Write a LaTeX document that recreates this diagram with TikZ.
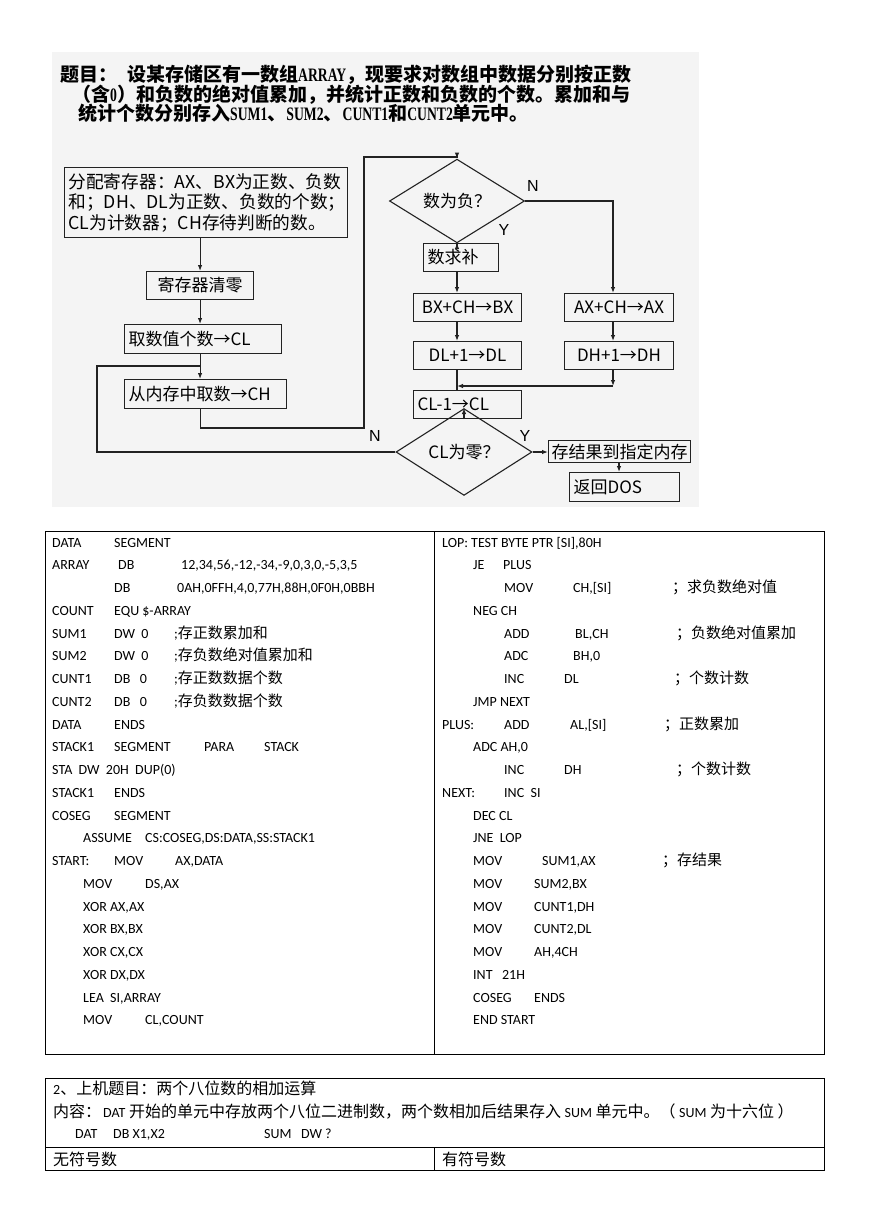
\documentclass[tikz,border=0pt]{standalone}
\usepackage{fontspec}
\setmainfont{Carlito}
\newfontfamily\zh{Noto Sans CJK SC}
\newfontfamily\ar{Liberation Sans}
\newfontfamily\tl[FakeStretch=0.72]{Liberation Serif}
\usetikzlibrary{arrows.meta,shapes.geometric}
\newcommand\tb[2]{\makebox[#1pt][l]{#2}}
\newcommand\z[1]{{\zh\fontsize{15}{16}\selectfont #1}}
\newcommand\zz[1]{{\zh\fontsize{16}{18}\selectfont #1}}
\newcommand\R[1]{547+22.75*(#1-1)}
\definecolor{bg}{HTML}{F4F4F4}
\definecolor{ln}{HTML}{222222}
\tikzset{
  ttl/.style={anchor=base west, inner sep=0pt, font=\zh\bfseries\fontsize{19}{22}\selectfont},
  fbox/.style={draw=ln, line width=1.1pt, anchor=north west, inner xsep=4pt, inner ysep=0pt,
    font=\zh\fontsize{17}{20.5}\selectfont},
  fdia/.style={draw=ln, line width=1.1pt, diamond, inner sep=0pt, font=\zh\fontsize{17}{20}\selectfont},
  con/.style={draw=ln, line width=1.1pt},
  arr/.style={con, -{Latex[length=6pt,width=4.5pt]}},
  lab/.style={inner sep=0pt, font=\ar\fontsize{16}{18}\selectfont},
  code/.style={anchor=base west, inner sep=0pt, font=\fontsize{14}{16}\selectfont},
  tline/.style={draw=black, line width=0.9pt}
}
\begin{document}
\begin{tikzpicture}[x=1pt,y=-1pt]
\useasboundingbox (0,0) rectangle (869,1228);
\fill[white] (0,0) rectangle (869,1228);
% ---------- flowchart picture ----------
\fill[bg] (52,52) rectangle (699,507);
\node[ttl] (t1) at (60,82) {题目：\hspace{10pt}设某存储区有一数组{\tl\bfseries ARRAY}，现要求对数组中数据分别按正数};
\node[ttl] (t2) at (72,102) {（含{\tl\bfseries 0}）和负数的绝对值累加，并统计正数和负数的个数。累加和与};
\node[ttl] (t3) at (78,121) {统计个数分别存入{\tl\bfseries SUM1}、{\tl\bfseries SUM2}、{\tl\bfseries CUNT1}和{\tl\bfseries CUNT2}单元中。};

\node[fbox, minimum width=283pt, minimum height=70pt, text width=275pt, align=left,
  font=\zh\fontsize{17.7}{20.5}\selectfont] (b1) at (64,167)
  {分配寄存器：AX、BX为正数、负数\\和；DH、DL为正数、负数的个数；\\CL为计数器；CH存待判断的数。};
\node[fbox, minimum width=107pt, minimum height=28pt] (b2) at (146,271) {寄存器清零};
\node[fbox, minimum height=29pt, text width=149pt, align=left] (b3) at (124,324) {取数值个数→CL};
\node[fbox, minimum height=29pt, text width=154pt, align=left] (b4) at (124,379) {从内存中取数→CH};

\node[fdia, minimum width=135pt, minimum height=48pt] (d1) at (457,201) {数为负？};
\node[fbox, minimum height=28pt, text width=67pt, align=left] (bq) at (423,243) {数求补};
\node[fbox, minimum width=108pt, minimum height=28pt] (bx) at (413,293) {BX+CH→BX};
\node[fbox, minimum width=109pt, minimum height=28pt] (ax) at (564,293) {AX+CH→AX};
\node[fbox, minimum width=108pt, minimum height=28pt] (dl) at (413,341) {DL+1→DL};
\node[fbox, minimum width=109pt, minimum height=28pt] (dh) at (564,341) {DH+1→DH};
\node[fbox, minimum height=28pt, text width=100pt, align=left] (cl) at (413,390) {CL-1→CL};
\node[fdia, minimum width=136pt, minimum height=48pt] (d2) at (464,452) {CL为零？};
\node[fbox, minimum width=142pt, minimum height=22pt, inner xsep=1pt] (st) at (548,440) {存结果到指定内存};
\node[fbox, minimum height=29pt, text width=102pt, align=left] (rt) at (569,472) {返回DOS};

\node[lab] (nN1) at (533,186) {N};
\node[lab] (nY1) at (504,230) {Y};
\node[lab] (nN2) at (375,436) {N};
\node[lab] (nY2) at (525,436) {Y};

\coordinate (lx) at (97,366);
\coordinate (ry) at (364,428);
\coordinate (tp) at (364,157);
\coordinate (nc) at (613,201);
\coordinate (mg) at (457,386);
\coordinate (sc) at (619,462);

\draw[arr] (b2.north |- b1.south) -- (b2.north);
\draw[arr] (b2.south) -- (b2.south |- b3.north);
\draw[arr] (b2.south |- b3.south) -- (b2.south |- b4.north);
\draw[con] (d2.west) -| (lx) -- (lx -| b2.south);
\draw[arr] (b2.south |- b4.south) |- (ry) -- (tp) -| (d1.north);
\draw[arr] (d1.south) -- (d1.south |- bq.north);
\draw[arr] (d1.south |- bq.south) -- (d1.south |- bx.north);
\draw[arr] (d1.south |- bx.south) -- (d1.south |- dl.north);
\draw[arr] (d1.east) -- (nc) -- (nc |- ax.north);
\draw[arr] (nc |- ax.south) -- (nc |- dh.north);
\draw[arr] (nc |- dh.south) -- (nc |- mg);
\draw[arr] (nc |- mg) -- (mg);
\draw[con] (d1.south |- dl.south) -- (d1.south |- cl.north);
\draw[arr] (d2.north |- cl.south) -- (d2.north);
\draw[arr] (d2.east) -- (st.west |- d2.east);
\draw[arr] (sc) -- (sc |- rt.north);

% ---------- code table ----------
\draw[tline] (45,531) rectangle (824,1054);
\coordinate (dv1) at (434,531);
\coordinate (dv2) at (434,1054);
\draw[tline] (dv1) -- (dv2);

\node[code] (L1) at (52,{\R{1}}) {\tb{62}{DATA}SEGMENT};
\node[code] (L2) at (52,{\R{2}}) {\tb{66}{ARRAY}\tb{63}{DB}12,34,56,-12,-34,-9,0,3,0,-5,3,5};
\node[code] (L3) at (114,{\R{3}}) {\tb{63}{DB}0AH,0FFH,4,0,77H,88H,0F0H,0BBH};
\node[code] (L4) at (52,{\R{4}}) {\tb{62}{COUNT}EQU \$-ARRAY};
\node[code] (L5) at (52,{\R{5}}) {\tb{62}{SUM1}\tb{60}{DW\ \ 0};\z{存正数累加和}};
\node[code] (L6) at (52,{\R{6}}) {\tb{62}{SUM2}\tb{60}{DW\ \ 0};\z{存负数绝对值累加和}};
\node[code] (L7) at (52,{\R{7}}) {\tb{62}{CUNT1}\tb{60}{DB\ \ \ 0};\z{存正数数据个数}};
\node[code] (L8) at (52,{\R{8}}) {\tb{62}{CUNT2}\tb{60}{DB\ \ \ 0};\z{存负数数据个数}};
\node[code] (L9) at (52,{\R{9}}) {\tb{62}{DATA}ENDS};
\node[code] (L10) at (52,{\R{10}}) {\tb{62}{STACK1}\tb{90}{SEGMENT}\tb{60}{PARA}STACK};
\node[code] (L11) at (52,{\R{11}}) {STA\ \ DW\ \ 20H\ \ DUP(0)};
\node[code] (L12) at (52,{\R{12}}) {\tb{62}{STACK1}ENDS};
\node[code] (L13) at (52,{\R{13}}) {\tb{62}{COSEG}SEGMENT};
\node[code] (L14) at (83,{\R{14}}) {\tb{62}{ASSUME}CS:COSEG,DS:DATA,SS:STACK1};
\node[code] (L15) at (52,{\R{15}}) {\tb{62}{START:}\tb{61}{MOV}AX,DATA};
\node[code] (L16) at (83,{\R{16}}) {\tb{62}{MOV}DS,AX};
\node[code] (L17) at (83,{\R{17}}) {XOR AX,AX};
\node[code] (L18) at (83,{\R{18}}) {XOR BX,BX};
\node[code] (L19) at (83,{\R{19}}) {XOR CX,CX};
\node[code] (L20) at (83,{\R{20}}) {XOR DX,DX};
\node[code] (L21) at (83,{\R{21}}) {LEA\ \ SI,ARRAY};
\node[code] (L22) at (83,{\R{22}}) {\tb{62}{MOV}CL,COUNT};

\node[code] (R1) at (442,{\R{1}}) {LOP: TEST BYTE PTR [SI],80H};
\node[code] (R2) at (473,{\R{2}}) {\tb{30}{JE}PLUS};
\node[code] (R3) at (504,{\R{3}}) {\tb{69}{MOV}\tb{99}{CH,[SI]}\z{；求负数绝对值}};
\node[code] (R4) at (473,{\R{4}}) {NEG CH};
\node[code] (R5) at (504,{\R{5}}) {\tb{71}{ADD}\tb{101}{BL,CH}\z{；负数绝对值累加}};
\node[code] (R6) at (504,{\R{6}}) {\tb{69}{ADC}BH,0};
\node[code] (R7) at (504,{\R{7}}) {\tb{60}{INC}\tb{110}{DL}\z{；个数计数}};
\node[code] (R8) at (473,{\R{8}}) {JMP NEXT};
\node[code] (R9) at (442,{\R{9}}) {\tb{62}{PLUS:}\tb{66}{ADD}\tb{94}{AL,[SI]}\z{；正数累加}};
\node[code] (R10) at (473,{\R{10}}) {ADC AH,0};
\node[code] (R11) at (504,{\R{11}}) {\tb{60}{INC}\tb{112}{DH}\z{；个数计数}};
\node[code] (R12) at (442,{\R{12}}) {\tb{62}{NEXT:}INC\ \ SI};
\node[code] (R13) at (473,{\R{13}}) {DEC CL};
\node[code] (R14) at (473,{\R{14}}) {JNE\ \ LOP};
\node[code] (R15) at (473,{\R{15}}) {\tb{69}{MOV}\tb{120}{SUM1,AX}\z{；存结果}};
\node[code] (R16) at (473,{\R{16}}) {\tb{61}{MOV}SUM2,BX};
\node[code] (R17) at (473,{\R{17}}) {\tb{61}{MOV}CUNT1,DH};
\node[code] (R18) at (473,{\R{18}}) {\tb{61}{MOV}CUNT2,DL};
\node[code] (R19) at (473,{\R{19}}) {\tb{61}{MOV}AH,4CH};
\node[code] (R20) at (473,{\R{20}}) {INT\ \ \ 21H};
\node[code] (R21) at (473,{\R{21}}) {\tb{61}{COSEG}ENDS};
\node[code] (R22) at (473,{\R{22}}) {END START};

% ---------- second table ----------
\draw[tline] (45,1078) rectangle (824,1170);
\coordinate (h1) at (45,1147);
\coordinate (h2) at (824,1147);
\coordinate (v1) at (434,1147);
\coordinate (v2) at (434,1170);
\draw[tline] (h1) -- (h2);
\draw[tline] (v1) -- (v2);
\node[code] (S1) at (53,1094) {2\zz{、上机题目：两个八位数的相加运算}};
\node[code] (S2) at (53,1117) {\tb{50}{\zz{内容：}}DAT\zz{ 开始的单元中存放两个八位二进制数，两个数相加后结果存入 }SUM\zz{ 单元中。（ }SUM\zz{ 为十六位 ）}};
\node[code] (S3) at (75,1138) {\tb{38}{DAT}\tb{151}{DB X1,X2}SUM\ \ \ DW ?};
\node[code] (S4) at (53,1165) {\zz{无符号数}};
\node[code] (S5) at (442,1165) {\zz{有符号数}};
\end{tikzpicture}
\end{document}
